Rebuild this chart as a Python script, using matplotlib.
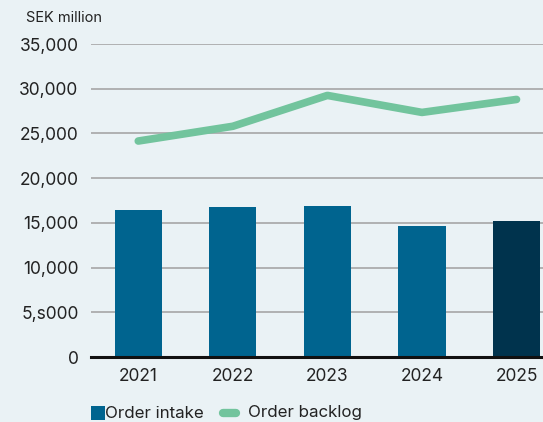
import matplotlib

matplotlib.use("Agg")
import matplotlib.pyplot as plt
from matplotlib.lines import Line2D
from matplotlib.patches import Rectangle

plt.rcParams["font.family"] = ["Inter", "DejaVu Sans"]

years = ["2021", "2022", "2023", "2024", "2025"]
order_intake = [16400, 16750, 16850, 14700, 15200]
order_backlog = [24150, 25800, 29250, 27350, 28800]
y_ticks = [0, 5000, 10000, 15000, 20000, 25000, 30000, 35000]
y_tick_labels = ["0", "5,s000", "10,000", "15,000", "20,000", "25,000",
                 "30,000", "35,000"]
legend_labels = ["Order intake", "Order backlog"]

BG = "#EAF2F5"
C_BAR = "#00648F"
C_BAR_LAST = "#00334D"
C_LINE = "#72C49D"
C_GRID = "#A6A6A6"
C_TEXT = "#222222"

W, H = 543, 422
fig = plt.figure(figsize=(W / 100, H / 100), dpi=100, facecolor=BG)
ax = fig.add_axes([91 / W, 1 - 357 / H, 452 / W, 313 / H])
ax.set_facecolor(BG)

x = list(range(len(years)))
colors = [C_BAR] * (len(years) - 1) + [C_BAR_LAST]
ax.bar(x, order_intake, width=0.5, color=colors, zorder=3)
ax.plot(x, order_backlog, color=C_LINE, lw=5.5, solid_capstyle="round",
        solid_joinstyle="round", zorder=4)

ax.set_xlim(-0.5, 4.28)
ax.set_ylim(0, 35000)
ax.set_yticks(y_ticks)
ax.set_yticklabels(y_tick_labels)
ax.set_xticks(x)
ax.set_xticklabels(years)
ax.yaxis.grid(True, color=C_GRID, lw=1.2, zorder=0)
ax.tick_params(axis="both", length=0, labelsize=12.5, colors=C_TEXT)
ax.tick_params(axis="y", pad=9)
ax.tick_params(axis="x", pad=8)
for side in ("top", "right", "left"):
    ax.spines[side].set_visible(False)
ax.spines["bottom"].set_color("#111111")
ax.spines["bottom"].set_linewidth(2.2)
ax.spines["bottom"].set_zorder(5)

fig.text(26 / W, 1 - 18 / H, "SEK million", fontsize=10.5, color=C_TEXT,
         va="center", ha="left")

# legend drawn by hand to hit the reference spacing
ly = 1 - 413 / H
fig.patches.append(Rectangle((91 / W, 1 - 420 / H), 14 / W, 14 / H,
                             transform=fig.transFigure, facecolor=C_BAR,
                             edgecolor="none"))
fig.text(105 / W, ly, legend_labels[0], fontsize=12.2, color=C_TEXT,
         va="center", ha="left")
fig.lines.append(Line2D([223 / W, 236 / W], [ly, ly], transform=fig.transFigure,
                        color=C_LINE, lw=6, solid_capstyle="round"))
fig.text(248 / W, ly, legend_labels[1], fontsize=12.2, color=C_TEXT,
         va="center", ha="left")

fig.savefig("out.png", dpi=100, facecolor=BG)
